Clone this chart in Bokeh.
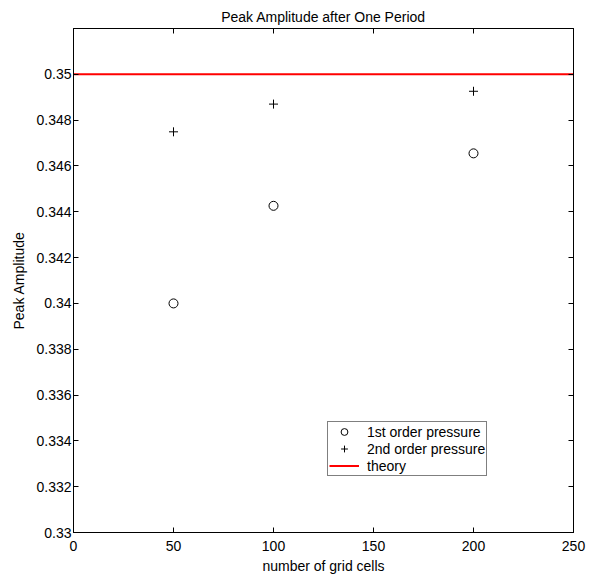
from bokeh.plotting import figure
from bokeh.models import (LinearAxis, FixedTicker, CustomJSTickFormatter, Range1d,
                          Legend, LegendItem, Title)
from bokeh.embed import file_html
from bokeh.resources import INLINE

# ---- data ----
grid_cells = [50, 100, 200]
first_order = [0.34, 0.34426, 0.34655]
second_order = [0.34749, 0.3487, 0.34926]
theory_value = 0.35
x_limits = [0, 250]
y_limits = [0.33, 0.352]
x_ticks = [0, 50, 100, 150, 200, 250]
y_ticks = [0.33, 0.332, 0.334, 0.336, 0.338, 0.34, 0.342, 0.344, 0.346, 0.348, 0.35]
title_text = "Peak Amplitude after One Period"

FONT = "Liberation Sans"
FS = "14px"

p = figure(width=602, height=576, output_backend="svg", toolbar_location=None,
           x_range=Range1d(*x_limits), y_range=Range1d(*y_limits),
           min_border_left=73, min_border_right=29, min_border_top=28,
           min_border_bottom=42, background_fill_color="white",
           border_fill_color="white")

p.outline_line_color = "black"
p.outline_line_width = 1
p.xgrid.visible = False
p.ygrid.visible = False

y_fmt = CustomJSTickFormatter(code="return tick.toFixed(3).replace(/0+$/, '').replace(/\\.$/, '');")
blank_fmt = CustomJSTickFormatter(code="return '';")

def style_axis(ax, ticks, fmt):
    ax.ticker = FixedTicker(ticks=ticks)
    ax.formatter = fmt
    ax.minor_tick_line_color = None
    ax.major_tick_in = 5
    ax.major_tick_out = 0
    ax.major_tick_line_color = "black"
    ax.axis_line_color = "black"
    ax.major_label_text_font = FONT
    ax.major_label_text_font_size = FS
    ax.major_label_text_color = "black"
    ax.axis_label_text_font = FONT
    ax.axis_label_text_font_size = FS
    ax.axis_label_text_font_style = "normal"
    ax.axis_label_text_color = "black"

xa = p.xaxis[0]
style_axis(xa, x_ticks, CustomJSTickFormatter(code="return tick.toFixed(0);"))
xa.axis_label = "number of grid cells"
xa.major_label_standoff = 8
xa.axis_label_standoff = 4

ya = p.yaxis[0]
style_axis(ya, y_ticks, y_fmt)
ya.axis_label = "Peak Amplitude"
ya.major_label_standoff = 2
ya.axis_label_standoff = 6

top = LinearAxis()
style_axis(top, x_ticks, blank_fmt)
top.major_label_standoff = 0
p.add_layout(top, "above")

right = LinearAxis()
style_axis(right, y_ticks, blank_fmt)
right.major_label_standoff = 0
p.add_layout(right, "right")

title = Title(text=title_text, align="center", text_font=FONT, text_font_size=FS,
              text_font_style="normal", text_color="black", standoff=8)
p.add_layout(title, "above")

r1 = p.scatter(grid_cells, first_order, marker="circle", size=9,
               fill_color=None, line_color="black", line_width=1)
r2 = p.scatter(grid_cells, second_order, marker="cross", size=9,
               line_color="black", line_width=1)
r3 = p.line(x_limits, [theory_value, theory_value], line_color="red", line_width=2)

legend = Legend(items=[
    LegendItem(label="1st order pressure", renderers=[r1]),
    LegendItem(label="2nd order pressure", renderers=[r2]),
    LegendItem(label="theory", renderers=[r3]),
], location=(254, 56))
legend.label_text_font = FONT
legend.label_text_font_size = FS
legend.label_text_color = "black"
legend.label_height = 17
legend.glyph_height = 17
legend.glyph_width = 30
legend.label_standoff = 8
legend.spacing = 0
legend.padding = 1
legend.margin = 0
legend.border_line_color = "black"
legend.border_line_width = 1
legend.background_fill_color = "white"
legend.background_fill_alpha = 1
p.add_layout(legend, "center")

open("out.html", "w").write(file_html(p, INLINE))
